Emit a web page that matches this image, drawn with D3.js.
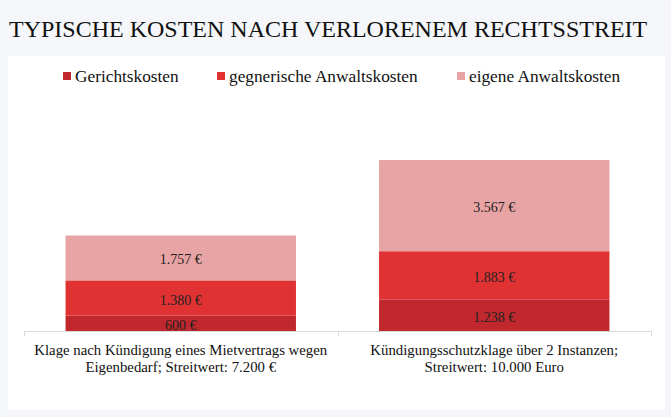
<!DOCTYPE html>
<html>
<head>
<meta charset="utf-8">
<script src="https://cdn.jsdelivr.net/npm/d3@7"></script>
<style>
  html, body { margin: 0; padding: 0; background: #f5f6f9; }
  svg { display: block; }
</style>
</head>
<body>
<svg class="graph" width="671" height="417"></svg>
<script>
// data
const categories = [
    ["Klage nach Kündigung eines Mietvertrags wegen", "Eigenbedarf; Streitwert: 7.200 €"],
    ["Kündigungsschutzklage über 2 Instanzen;", "Streitwert: 10.000 Euro"]
];
const seriesNames = ["Gerichtskosten", "gegnerische Anwaltskosten", "eigene Anwaltskosten"];
const gerichtskosten = [600, 1238];
const gegnerAnwalt = [1380, 1883];
const eigeneAnwalt = [1757, 3567];
const valueLabels = [["600 €", "1.238 €"], ["1.380 €", "1.883 €"], ["1.757 €", "3.567 €"]];

const colors = ["#c0282d", "#e03233", "#e8a3a4"];

const svg = d3.select('svg.graph')
    .attr('font-family', 'Liberation Serif');

// white panel
svg.append('rect')
    .attr('x', 8).attr('y', 56)
    .attr('width', 657).attr('height', 354)
    .attr('fill', '#ffffff');

// title
svg.append('text')
    .attr('x', 9).attr('y', 37)
    .attr('font-size', 24)
    .attr('fill', '#111')
    .text('TYPISCHE KOSTEN NACH VERLORENEM RECHTSSTREIT');

// legend
const legendX = [63, 217, 457];
const legend = svg.append('g').attr('class', 'legend');
seriesNames.forEach((name, i) => {
    legend.append('rect')
        .attr('x', legendX[i]).attr('y', 72)
        .attr('width', 8).attr('height', 8)
        .attr('fill', colors[i]);
    legend.append('text')
        .attr('x', legendX[i] + 12).attr('y', 81.5)
        .attr('font-size', 17.3)
        .attr('fill', '#111')
        .text(name);
});

// scales
const x = d3.scaleBand()
    .domain(d3.range(categories.length))
    .range([24, 651])
    .paddingInner(0.265)
    .paddingOuter(0.1325);

const y = d3.scaleLinear()
    .domain([0, 8000])
    .range([331, 126.5]);

// stack
const rows = categories.map((c, i) => ({
    idx: i,
    s0: gerichtskosten[i],
    s1: gegnerAnwalt[i],
    s2: eigeneAnwalt[i]
}));
const stacked = d3.stack().keys(["s0", "s1", "s2"])(rows);

const layers = svg.selectAll('g.layer')
    .data(stacked)
    .join('g')
    .attr('class', 'layer')
    .attr('fill', (d, i) => colors[i]);

layers.selectAll('rect')
    .data(d => d)
    .join('rect')
    .attr('x', d => x(d.data.idx))
    .attr('y', d => y(d[1]))
    .attr('width', x.bandwidth())
    .attr('height', d => y(d[0]) - y(d[1]));

// value labels
stacked.forEach((layer, li) => {
    svg.append('g').selectAll('text')
        .data(layer)
        .join('text')
        .attr('x', d => x(d.data.idx) + x.bandwidth() / 2)
        .attr('y', d => (y(d[0]) + y(d[1])) / 2 + 6.5)
        .attr('text-anchor', 'middle')
        .attr('font-size', 14)
        .attr('fill', '#222')
        .text((d, i) => valueLabels[li][i]);
});

// axis line with ticks at category boundaries
const step = x.step();
const boundaries = [24, 24 + step, 651];
svg.append('line')
    .attr('x1', 24).attr('x2', 651)
    .attr('y1', 331.5).attr('y2', 331.5)
    .attr('stroke', '#d9d9d9');
svg.selectAll('line.tick')
    .data(boundaries)
    .join('line')
    .attr('class', 'tick')
    .attr('x1', d => Math.round(d) + 0.5).attr('x2', d => Math.round(d) + 0.5)
    .attr('y1', 331).attr('y2', 336)
    .attr('stroke', '#d9d9d9');

// category labels
const catG = svg.selectAll('text.cat')
    .data(categories)
    .join('text')
    .attr('class', 'cat')
    .attr('text-anchor', 'middle')
    .attr('font-size', 14.8)
    .attr('fill', '#111');
catG.selectAll('tspan')
    .data((d, i) => d.map(line => ({ line, i })))
    .join('tspan')
    .attr('x', d => x(d.i) + x.bandwidth() / 2)
    .attr('y', (d, j) => 355 + j * 17)
    .text(d => d.line);
</script>
</body>
</html>
